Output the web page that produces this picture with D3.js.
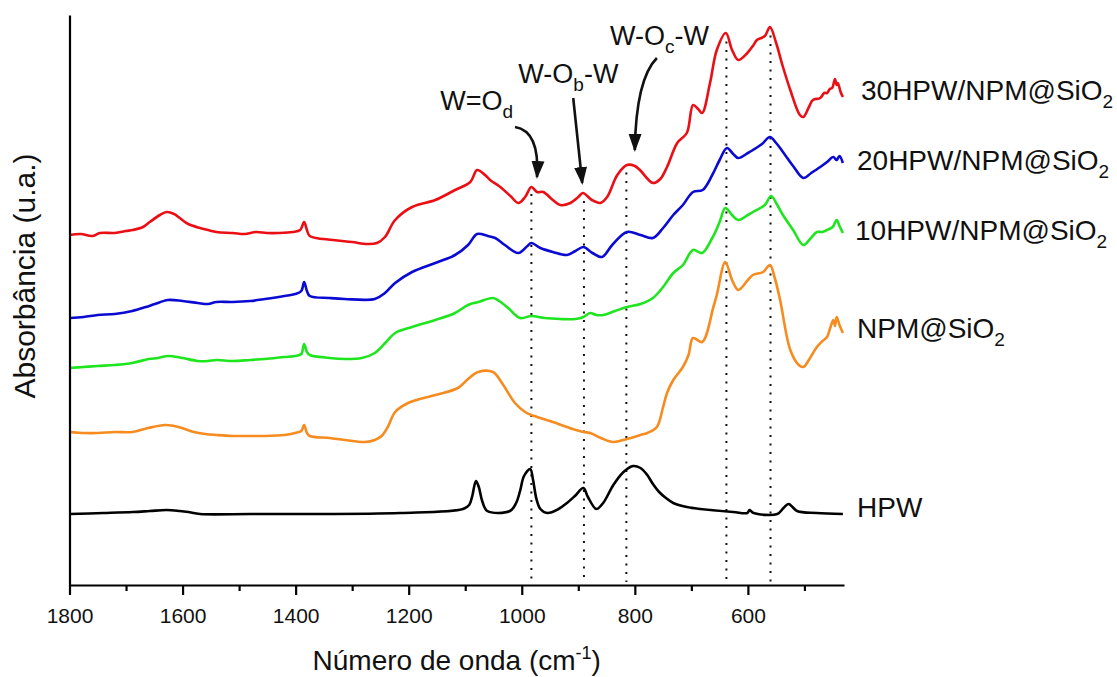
<!DOCTYPE html>
<html>
<head>
<meta charset="utf-8">
<script src="https://cdn.jsdelivr.net/npm/d3@7"></script>
<style>
  body { margin: 0; background: #fff; }
  svg { display: block; font-family: "Liberation Sans", Arial, sans-serif; }
</style>
</head>
<body>
<svg id="chart" width="1117" height="677"></svg>
<script>
// FTIR spectra, [wavenumber (cm-1), absorbance (a.u., already stacked)]
const hpw = [
  [1800,7.1],[1740,7.2],[1688,7.3],[1658,7.4],[1628,7.5],[1605,7.4],[1590,7.3],[1569,7.1],[1480,7.1],
  [1392,7.1],[1215,7.2],[1104,7.6],[1093,8.0],[1088,8.8],[1081,10.4],[1076,9.8],[1070,8.4],[1061,7.4],
  [1021,7.4],[1010,8.2],[1003,9.4],[996,10.9],[985,11.6],[980,10.5],[974,8.6],[967,7.6],[955,7.2],
  [935,7.6],[920,8.2],[906,8.9],[891,9.7],[883,8.8],[868,7.6],[856,8.2],[838,10.0],[820,11.3],[803,11.9],
  [790,11.7],[778,11.0],[768,10.1],[757,9.3],[745,8.7],[732,8.2],[708,7.8],[684,7.6],[626,7.3],[601,7.2],
  [597,7.5],[590,7.2],[548,7.1],[537,7.7],[528,8.1],[513,7.4],[478,7.2],[432,7.1]
];
const npmSiO2 = [
  [1800,15.3],[1775,15.2],[1750,15.2],[1720,15.3],[1689,15.3],[1661,15.7],[1631,16.0],[1615,15.9],[1601,15.7],
  [1580,15.3],[1560,15.1],[1540,15.0],[1512,14.9],[1480,14.9],[1454,14.9],[1420,15.0],[1401,15.2],[1390,15.4],
  [1385,16.0],[1380,15.2],[1375,14.9],[1340,14.7],[1313,14.5],[1277,14.3],[1260,14.5],[1248,14.9],[1237,15.8],
  [1224,17.3],[1201,18.2],[1153,19.0],[1113,19.7],[1095,20.6],[1077,21.3],[1051,21.3],[1035,20.2],[1012,18.2],
  [994,17.3],[983,17.0],[945,16.3],[910,15.6],[891,15.3],[879,15.2],[860,14.7],[838,14.3],[814,14.6],[790,15.0],
  [778,15.2],[761,15.8],[750,17.8],[743,19.2],[732,20.5],[715,21.8],[705,23.0],[697,24.7],[681,24.3],[661,27.8],
  [655,29.0],[640,32.3],[628,30.5],[617,29.5],[600,30.5],[591,31.0],[573,31.3],[561,32.0],[552,30.6],[543,28.5],
  [525,23.5],[510,22.0],[502,21.8],[490,22.7],[478,23.8],[468,24.4],[460,24.8],[455,25.6],[449,26.5],[446,25.9],
  [443,26.8],[438,26.0],[432,25.2]
];
const hpw10 = [
  [1800,21.7],[1775,21.8],[1750,21.9],[1720,22.0],[1689,22.2],[1660,22.6],[1643,22.7],[1626,22.9],[1600,22.7],
  [1573,22.4],[1555,22.4],[1540,22.5],[1512,22.4],[1480,22.5],[1454,22.6],[1420,22.8],[1401,22.9],[1390,23.1],
  [1385,24.1],[1380,23.3],[1375,23.0],[1340,22.7],[1313,22.6],[1283,22.7],[1260,23.2],[1240,24.3],[1224,25.2],
  [1194,25.8],[1153,26.5],[1118,27.2],[1095,28.0],[1077,28.3],[1051,28.7],[1040,28.4],[1024,27.7],[1003,26.7],
  [983,26.9],[960,26.7],[932,26.6],[905,26.6],[891,26.8],[879,27.2],[868,27.0],[856,27.0],[835,27.4],[814,27.8],
  [790,28.1],[768,28.7],[750,29.8],[732,31.2],[715,32.0],[697,33.5],[681,33.2],[663,34.7],[650,36.3],[640,37.7],
  [628,37.0],[617,36.5],[600,37.0],[591,37.3],[570,38.0],[559,38.9],[548,38.0],[538,37.0],[520,35.5],[502,34.0],
  [490,34.6],[478,35.3],[468,35.3],[460,35.5],[450,35.8],[443,36.5],[438,35.9],[432,35.2]
];
const hpw20 = [
  [1800,26.7],[1775,26.8],[1750,27.0],[1720,27.1],[1689,27.4],[1665,27.8],[1649,28.1],[1626,28.5],[1600,28.4],
  [1573,28.2],[1555,28.1],[1540,28.3],[1512,28.3],[1480,28.4],[1454,28.6],[1420,28.9],[1401,29.1],[1390,29.4],
  [1385,30.3],[1380,29.4],[1375,28.9],[1340,28.7],[1313,28.6],[1260,28.6],[1242,29.2],[1224,30.2],[1194,31.3],
  [1153,32.2],[1118,33.0],[1095,34.0],[1079,35.1],[1060,34.9],[1047,34.7],[1030,34.0],[1006,33.2],[990,33.9],
  [983,34.2],[967,33.7],[945,33.3],[920,33.0],[905,33.4],[891,33.8],[875,33.2],[858,32.8],[840,34.0],[814,35.3],
  [790,35.0],[768,34.7],[750,35.7],[732,37.0],[715,38.0],[697,39.3],[680,39.5],[663,41.0],[650,42.5],[637,43.7],
  [626,43.1],[617,42.7],[600,43.2],[591,43.5],[575,44.1],[561,44.8],[550,44.2],[538,43.3],[520,41.9],[502,40.7],
  [488,41.2],[472,41.8],[460,42.3],[449,42.8],[443,42.5],[438,42.9],[432,42.2]
];
const hpw30 = [
  [1800,35.0],[1780,35.1],[1760,34.9],[1746,35.2],[1720,35.2],[1700,35.4],[1688,35.5],[1670,35.8],[1658,36.3],
  [1640,37.0],[1628,37.3],[1615,37.1],[1605,36.7],[1590,36.1],[1569,35.7],[1555,35.5],[1540,35.3],[1511,35.2],
  [1490,35.1],[1470,35.3],[1451,35.2],[1430,35.2],[1405,35.3],[1392,35.5],[1385,36.3],[1380,35.5],[1375,34.9],
  [1334,34.5],[1300,34.3],[1274,34.1],[1256,34.2],[1242,34.8],[1224,36.5],[1194,37.8],[1153,38.5],[1118,39.5],
  [1091,40.3],[1079,41.5],[1065,41.0],[1056,40.5],[1038,39.8],[1020,38.9],[1006,38.2],[994,38.8],[983,39.8],
  [973,39.3],[962,39.3],[945,38.5],[932,38.0],[914,38.2],[900,38.8],[892,39.2],[876,38.5],[861,38.2],[849,38.8],
  [831,41.0],[814,42.0],[800,41.9],[791,41.5],[768,40.2],[755,40.6],[743,41.8],[725,44.2],[708,45.2],[697,48.0],
  [688,47.6],[681,47.2],[667,50.2],[655,53.5],[639,55.2],[628,53.5],[617,52.5],[601,53.2],[590,54.0],[584,54.5],
  [570,54.9],[561,55.8],[550,54.2],[539,52.0],[525,49.5],[508,47.0],[502,46.8],[492,47.8],[485,48.5],[472,48.7],
  [465,49.2],[460,49.2],[455,49.6],[451,49.7],[446,50.6],[443,50.0],[441,50.2],[436,49.3],[432,48.8]
];

const seriesNames = ["HPW", "NPM@SiO", "10HPW/NPM@SiO", "20HPW/NPM@SiO", "30HPW/NPM@SiO"];
const seriesSubs = ["", "2", "2", "2", "2"];
const seriesColors = ["#000000", "#f68b1f", "#1fe51f", "#0a0ad2", "#ea0f14"];
const seriesData = [hpw, npmSiO2, hpw10, hpw20, hpw30];

// band positions marked with dotted lines
const bands = [983, 890, 815, 638, 560];

// band assignment labels
const bandLabels = ["W=O", "W-O", "W-O"];
const bandLabelSubs = ["d", "b", "c"];
const bandLabelTails = ["", "-W", "-W"];

const majorTicks = [1800, 1600, 1400, 1200, 1000, 800, 600];
const minorTicks = [1700, 1500, 1300, 1100, 900, 700, 500];

const svg = d3.select("#chart");
const margin = { top: 15, left: 69.5, right: 273, bottom: 92 };
const W = 1117, H = 677;

const x = d3.scaleLinear().domain([1800, 430]).range([margin.left, W - margin.right]);
const y = d3.scaleLinear().domain([0, 57]).range([H - margin.bottom, margin.top]);

// dotted band markers, from just under the top spectrum down to the axis
const topValue = wn => {
  const s = hpw30.slice().sort((a, b) => a[0] - b[0]);
  const i = d3.bisector(d => d[0]).left(s, wn);
  const a = s[i - 1], b = s[i];
  const t = (wn - a[0]) / (b[0] - a[0]);
  return a[1] + t * (b[1] - a[1]);
};
svg.append("g")
  .selectAll("line")
  .data(bands)
  .join("line")
  .attr("x1", d => x(d)).attr("x2", d => x(d))
  .attr("y1", d => y(topValue(d)) + 7)
  .attr("y2", y(0) - 3)
  .attr("stroke", "#111")
  .attr("stroke-width", 2)
  .attr("stroke-dasharray", "2,6.5");

// spectra
const line = d3.line()
  .x(d => x(d[0]))
  .y(d => y(d[1]))
  .curve(d3.curveCatmullRom.alpha(0.5));

svg.append("g")
  .selectAll("path")
  .data(seriesData)
  .join("path")
  .attr("fill", "none")
  .attr("stroke", (d, i) => seriesColors[i])
  .attr("stroke-width", 2.6)
  .attr("stroke-linejoin", "round")
  .attr("d", line);

// axes
const xAxis = svg.append("g")
  .attr("transform", `translate(0,${y(0)})`)
  .call(d3.axisBottom(x).tickValues(majorTicks).tickSize(10).tickSizeOuter(0).tickPadding(13).tickFormat(d3.format("d")));
xAxis.select(".domain").attr("stroke-width", 2.2);
xAxis.selectAll(".tick line").attr("stroke-width", 2.2);
xAxis.selectAll(".tick text").attr("font-size", 21).attr("fill", "#111")
  .attr("font-family", "Liberation Sans, Arial, sans-serif");

svg.append("g")
  .attr("transform", `translate(0,${y(0)})`)
  .call(d3.axisBottom(x).tickValues(minorTicks).tickSize(6).tickSizeOuter(0).tickFormat(""))
  .call(g => g.select(".domain").remove())
  .call(g => g.selectAll(".tick line").attr("stroke-width", 2.2));

svg.append("g")
  .attr("transform", `translate(${x(1800)},0)`)
  .call(d3.axisLeft(y).tickValues([]).tickSizeOuter(0))
  .call(g => g.select(".domain").attr("stroke-width", 2.2));

// axis titles
const xt = svg.append("text")
  .attr("x", (x(1800) + x(430)) / 2)
  .attr("y", 670)
  .attr("text-anchor", "middle")
  .attr("font-size", 28)
  .attr("fill", "#111");
xt.append("tspan").text("Número de onda (cm");
xt.append("tspan").attr("font-size", 18).attr("dy", -11).text("-1");
xt.append("tspan").attr("dy", 11).text(")");

svg.append("text")
  .attr("transform", "translate(35,276) rotate(-90)")
  .attr("text-anchor", "middle")
  .attr("font-size", 30)
  .attr("fill", "#111")
  .text("Absorbância (u.a.)");

// series labels at the right end of each spectrum
const labelY = [517, 338, 240, 170, 100];
const labelX = [857, 857, 855, 857, 861];
seriesNames.forEach((name, i) => {
  const t = svg.append("text")
    .attr("x", labelX[i])
    .attr("y", labelY[i])
    .attr("font-size", 28)
    .attr("fill", "#111");
  t.append("tspan").text(name);
  if (seriesSubs[i]) t.append("tspan").attr("font-size", 19).attr("dy", 8).text(seriesSubs[i]);
});

// band assignment labels with arrows (positions in data units)
const labelPos = [[1144, 47.5], [1006, 50.2], [844, 54.0]];
const arrowPaths = [
  [[1012, 45.8], [968, 45.4], [973, 40.8]],
  [[909, 48.7], [901, 44.5], [893, 40.2]],
  [[761, 52.7], [798, 50.6], [800, 43.5]]
];

svg.append("defs").append("marker")
  .attr("id", "head")
  .attr("viewBox", "0 -7 18 14")
  .attr("refX", 16).attr("refY", 0)
  .attr("markerUnits", "userSpaceOnUse")
  .attr("markerWidth", 18).attr("markerHeight", 14)
  .attr("orient", "auto")
  .append("path")
  .attr("d", "M0,-6.5L18,0L0,6.5Z")
  .attr("fill", "#111");

bandLabels.forEach((lab, i) => {
  const t = svg.append("text")
    .attr("x", x(labelPos[i][0]))
    .attr("y", y(labelPos[i][1]))
    .attr("font-size", 27)
    .attr("fill", "#111");
  t.append("tspan").text(lab);
  t.append("tspan").attr("font-size", 19).attr("dy", 8).text(bandLabelSubs[i]);
  if (bandLabelTails[i]) t.append("tspan").attr("dy", -8).text(bandLabelTails[i]);

  const [p0, c, p1] = arrowPaths[i];
  const path = d3.path();
  path.moveTo(x(p0[0]), y(p0[1]));
  path.quadraticCurveTo(x(c[0]), y(c[1]), x(p1[0]), y(p1[1]));
  svg.append("path")
    .attr("d", path.toString())
    .attr("fill", "none")
    .attr("stroke", "#111")
    .attr("stroke-width", 2.6)
    .attr("marker-end", "url(#head)");
});
</script>
</body>
</html>
